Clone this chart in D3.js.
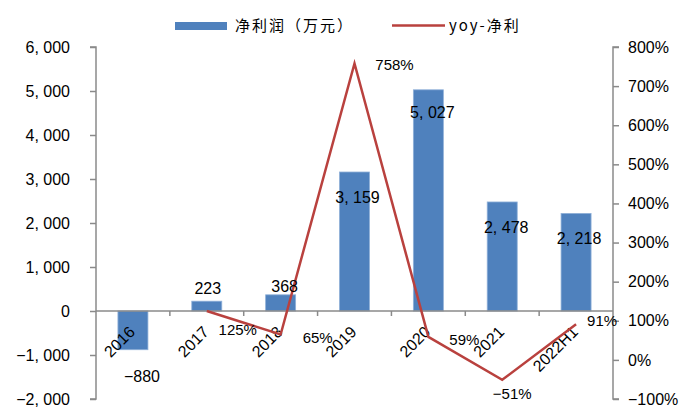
<!DOCTYPE html>
<html><head><meta charset="utf-8">
<script src="https://cdn.jsdelivr.net/npm/d3@7"></script>
<style>
html,body{margin:0;padding:0;background:#fff;}
svg{display:block;}
text{font-family:"Liberation Sans",Arial,sans-serif;fill:#000;}
.cjk{font-family:"Noto Sans CJK SC","Liberation Sans",sans-serif;}
</style></head>
<body>
<svg id="c" width="689" height="410"></svg>
<script>
const categories = ["2016","2017","2018","2019","2020","2021","2022H1"];
const profit = [-880, 223, 368, 3159, 5027, 2478, 2218];
const yoy = [null, 125, 65, 758, 59, -51, 91];
const leftTicks = [-2000,-1000,0,1000,2000,3000,4000,5000,6000];
const rightTicks = [-100,0,100,200,300,400,500,600,700,800];
const seriesNames = ["净利润（万元）","yoy-净利"];

// label placement offsets (style)
const barLabelOffset = [[9,27],[1,-13],[4,-8],[3,25],[4,23],[4,25],[3,25]];
const lineLabelOffset = [null,[31,19],[37,3],[40,1],[36,3],[10,14],[26,-4]];

const svg = d3.select("#c");
const L = 96, R = 613, T = 47, B = 399;
const x = d3.scaleBand().domain(categories).range([L, R]).paddingInner(0).paddingOuter(0);
const yL = d3.scaleLinear().domain([-2000, 6000]).range([B, T]);
const yR = d3.scaleLinear().domain([-100, 800]).range([B, T]);
const axisColor = "#8a8a8a";
const fmt = v => d3.format(",")(v).replace(/,/g, ", ").replace("-", "\u2212");

// left axis
const gl = svg.append("g").attr("transform", `translate(${L},0)`)
  .call(d3.axisLeft(yL).tickValues(leftTicks).tickSize(6).tickPadding(20).tickFormat(fmt));
gl.select(".domain").attr("stroke", axisColor).attr("stroke-width", 1.5).attr("d", `M-6,${T}H0V${B}H-6`);
gl.selectAll(".tick line").attr("stroke", axisColor).attr("stroke-width", 1.5);
gl.selectAll(".tick text").attr("font-size", 16).attr("font-family", "Liberation Sans, Arial, sans-serif").attr("fill", "#000");

// right axis
const gr = svg.append("g").attr("transform", `translate(${R},0)`)
  .call(d3.axisRight(yR).tickValues(rightTicks).tickSize(6).tickPadding(9).tickFormat(d => (d < 0 ? "\u2212" + (-d) : d) + "%"));
gr.select(".domain").attr("stroke", axisColor).attr("stroke-width", 1.5).attr("d", `M6,${T}H0V${B}H6`);
gr.selectAll(".tick line").attr("stroke", axisColor).attr("stroke-width", 1.5);
gr.selectAll(".tick text").attr("font-size", 16).attr("font-family", "Liberation Sans, Arial, sans-serif").attr("fill", "#000");

// bars
const bw = 30;
svg.append("g").selectAll("rect").data(profit).join("rect")
  .attr("x", (d, i) => x(categories[i]) + x.bandwidth() / 2 - bw / 2)
  .attr("width", bw)
  .attr("y", d => yL(Math.max(0, d)))
  .attr("height", d => Math.abs(yL(d) - yL(0)))
  .attr("fill", "#4F81BD")
  .attr("stroke", "#8fb0d8").attr("stroke-width", 0.8);

// category axis at zero
const y0 = yL(0);
const gx = svg.append("g").attr("transform", `translate(0,${y0})`)
  .call(d3.axisBottom(x).tickSize(0).tickFormat(""));
gx.select(".domain").attr("stroke", axisColor).attr("stroke-width", 1.5).attr("d", `M${L},0H${R}`);
gx.selectAll(".tick").remove();
svg.append("g").selectAll("line").data(categories.slice(1)).join("line")
  .attr("x1", d => x(d)).attr("x2", d => x(d))
  .attr("y1", y0).attr("y2", y0 + 5)
  .attr("stroke", axisColor).attr("stroke-width", 1.5);

// category labels
svg.append("g").selectAll("text").data(categories).join("text")
  .attr("transform", d => `translate(${x(d) + x.bandwidth() / 2 + 3},${y0 + 22}) rotate(-45)`)
  .attr("text-anchor", "end")
  .attr("font-size", 16)
  .text(d => d);

// line
const pts = yoy.map((v, i) => ({v, i})).filter(p => p.v !== null);
const line = d3.line().x(p => x(categories[p.i]) + x.bandwidth() / 2).y(p => yR(p.v));
svg.append("path").datum(pts).attr("d", line)
  .attr("fill", "none").attr("stroke", "#B9413E").attr("stroke-width", 2.5).attr("stroke-linejoin", "miter");

// bar labels
svg.append("g").selectAll("text").data(profit).join("text")
  .attr("x", (d, i) => x(categories[i]) + x.bandwidth() / 2 + barLabelOffset[i][0])
  .attr("y", (d, i) => (d < 0 ? yL(d) : yL(d)) + barLabelOffset[i][1])
  .attr("dy", "0.35em")
  .attr("text-anchor", "middle")
  .attr("font-size", 16)
  .text(d => fmt(d));

// line labels
svg.append("g").selectAll("text").data(pts).join("text")
  .attr("x", p => x(categories[p.i]) + x.bandwidth() / 2 + lineLabelOffset[p.i][0])
  .attr("y", p => yR(p.v) + lineLabelOffset[p.i][1])
  .attr("dy", "0.35em")
  .attr("text-anchor", "middle")
  .attr("font-size", 15)
  .text(p => (p.v < 0 ? "\u2212" + (-p.v) : p.v) + "%");

// legend
const lg = svg.append("g");
lg.append("rect").attr("x", 175).attr("y", 22).attr("width", 52).attr("height", 8).attr("fill", "#4F81BD");
lg.append("text").attr("class", "cjk").attr("x", 235).attr("y", 26).attr("dy", "0.35em")
  .attr("font-size", 15).attr("letter-spacing", 2).text(seriesNames[0]);
lg.append("line").attr("x1", 392).attr("x2", 445).attr("y1", 25.5).attr("y2", 25.5)
  .attr("stroke", "#B9413E").attr("stroke-width", 2.5);
lg.append("text").attr("class", "cjk").attr("x", 449).attr("y", 26).attr("dy", "0.35em")
  .attr("font-size", 15).attr("letter-spacing", 2).text(seriesNames[1]);
</script>
</body></html>
